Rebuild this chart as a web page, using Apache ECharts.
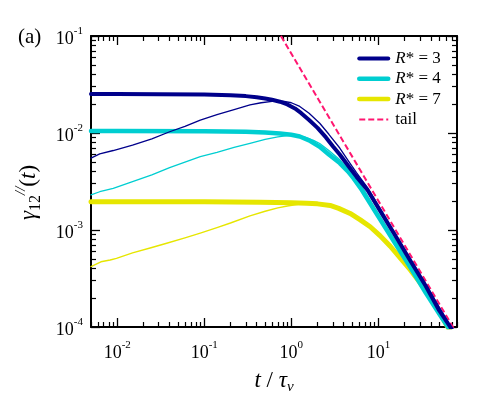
<!DOCTYPE html>
<html>
<head>
<meta charset="utf-8">
<script src="https://cdn.jsdelivr.net/npm/echarts@6/dist/echarts.min.js"></script>
<style>
html,body{margin:0;padding:0;background:#fff;}
#chart{width:491px;height:400px;}
</style>
</head>
<body>
<div id="chart"></div>
<script>
// ---- data: [t / tau_nu, gamma_12(t)] ----
const r3Thick = [[0.005,0.0252],[0.01,0.0252],[0.03,0.0251],[0.1,0.0249],[0.2,0.0245],[0.3,0.0240],[0.4,0.0234],[0.5,0.0227],[0.6,0.0220],[0.74,0.0210],[0.9,0.0197],[1.1,0.0179],[1.3,0.0160],[1.6,0.0136],[2.0,0.0113],[2.5,0.0090],[3.0,0.0073],[3.6,0.0060],[4.5,0.0046],[5.6,0.00355],[7.5,0.00258],[10,0.00169],[15,0.00093],[23,0.00049],[35,0.000265],[50,0.000148],[67,0.000100],[80,0.000077]];
const r3Thin = [[0.005,0.0055],[0.0063,0.0061],[0.009,0.0066],[0.015,0.0075],[0.025,0.0087],[0.04,0.0103],[0.06,0.0117],[0.09,0.0136],[0.14,0.0155],[0.22,0.0174],[0.335,0.0195],[0.45,0.0205],[0.6,0.0212],[0.8,0.0213],[1.0,0.0205],[1.25,0.0188],[1.6,0.0160],[2.12,0.0126],[2.7,0.0097],[3.6,0.0070],[4.5,0.0052],[5.6,0.0039],[7.5,0.00273],[10,0.00177],[15,0.00097],[23,0.00051],[35,0.000275],[67,0.000103],[80,0.000079]];
const r4Thick = [[0.005,0.0105],[0.01,0.0105],[0.1,0.0104],[0.3,0.0103],[0.5,0.0101],[0.74,0.0099],[1.0,0.0096],[1.25,0.0092],[1.6,0.0084],[2.12,0.0072],[2.7,0.0060],[3.6,0.0049],[4.5,0.0040],[5.2,0.0034],[6.46,0.00258],[8,0.0019],[10,0.00138],[15,0.00077],[23,0.00042],[35,0.000225],[50,0.000137],[63,0.000100],[80,0.000071]];
const r4Thin = [[0.005,0.0023],[0.0063,0.00248],[0.009,0.00269],[0.015,0.00315],[0.025,0.0037],[0.04,0.0044],[0.06,0.0050],[0.09,0.0057],[0.14,0.0063],[0.22,0.0071],[0.335,0.0078],[0.5,0.0086],[0.7,0.0091],[0.9,0.0094],[1.1,0.0095],[1.4,0.0091],[1.8,0.0084],[2.12,0.0078],[2.7,0.0066],[3.6,0.0053],[4.5,0.0042],[5.6,0.0033],[7,0.0025],[10,0.00143],[15,0.00080],[23,0.000435],[35,0.000232],[63,0.000102],[80,0.000073]];
const r7Thick = [[0.005,0.00196],[0.01,0.00196],[0.1,0.00195],[0.44,0.00193],[1.0,0.00191],[1.5,0.00189],[2.0,0.00186],[2.79,0.00179],[3.5,0.00167],[4.74,0.00148],[6.2,0.00127],[8.05,0.00108],[10.5,0.00087],[13.7,0.00068],[18,0.00051],[23.2,0.00039],[30,0.000287],[39.5,0.000205],[50,0.000143],[61,0.000104],[80,0.000069]];
const r7Thin = [[0.005,0.00042],[0.0065,0.00047],[0.0083,0.00049],[0.0098,0.00051],[0.015,0.00058],[0.025,0.00066],[0.037,0.00073],[0.06,0.00083],[0.09,0.00093],[0.14,0.00106],[0.2,0.00118],[0.335,0.00140],[0.5,0.00156],[0.7,0.00169],[0.9,0.00177],[1.25,0.00185],[1.8,0.00188],[2.5,0.00184],[3.5,0.00169],[4.74,0.00150],[6.2,0.00128],[8.05,0.00109],[13.7,0.00069],[23.2,0.000395],[39.5,0.000207],[61,0.000105],[80,0.000070]];
const tail = [[0.76,0.1],[80,0.000085]];

// ---- axis ticks / labels ----
const xMajor = [0.01,0.1,1,10];
const xMinor = [0.005,0.006,0.007,0.008,0.009,0.02,0.03,0.04,0.05,0.06,0.07,0.08,0.09,0.2,0.3,0.4,0.5,0.6,0.7,0.8,0.9,2,3,4,5,6,7,8,9,20,30,40,50,60,70,80];
const yMajor = [0.0001,0.001,0.01,0.1];
const yMinor = [0.0002,0.0003,0.0004,0.0005,0.0006,0.0007,0.0008,0.0009,0.002,0.003,0.004,0.005,0.006,0.007,0.008,0.009,0.02,0.03,0.04,0.05,0.06,0.07,0.08,0.09];

const seriesNames = ['R* = 3','R* = 4','R* = 7','tail'];
const colors = {r3:'#00008b', r4:'#00ced1', r7:'#e6e600', tail:'#ff1670'};

const SERIF = '"Liberation Serif","DejaVu Serif",serif';
const X0 = 0.005, X1 = 80, Y0 = 0.0001, Y1 = 0.1;
const G = {left:91, top:36, width:366, height:291};

function powLabel(v){
  const e = Math.round(Math.log10(v));
  return '{b|10}{e|' + e + '}';
}
const labelRich = {
  b:{fontFamily:SERIF, fontSize:18, lineHeight:26, color:'#000'},
  e:{fontFamily:SERIF, fontSize:11, lineHeight:11, verticalAlign:'top', color:'#000'}
};

function axisBase(pos, gridIndex, min, max){
  return {type:'log', logBase:10, gridIndex, position:pos, min, max,
    splitLine:{show:false}, minorTick:{show:false}, minorSplitLine:{show:false}};
}
function majorAxis(pos, min, max, ticks, withLabels, labelExtra){
  const a = axisBase(pos, 0, min, max);
  a.axisLine = {show:true, onZero:false, lineStyle:{color:'#000', width:2}};
  a.axisTick = {show:true, inside:true, length:9, customValues:ticks, lineStyle:{color:'#000', width:1.3}};
  a.axisLabel = withLabels ? Object.assign({show:true, customValues:ticks, formatter:powLabel, rich:labelRich, color:'#000'}, labelExtra) : {show:false};
  return a;
}
function minorAxis(pos, min, max, ticks){
  const a = axisBase(pos, 1, min, max);
  a.axisLine = {show:false, onZero:false};
  a.axisTick = {show:true, inside:true, length:5, customValues:ticks, lineStyle:{color:'#000', width:1.2}};
  a.axisLabel = {show:false};
  return a;
}

const xAxes = [
  majorAxis('bottom', X0, X1, xMajor, true, {margin:13}),
  majorAxis('top', X0, X1, xMajor, false),
  minorAxis('bottom', X0, X1, xMinor),
  minorAxis('top', X0, X1, xMinor)
];
xAxes[0].name = '{i|t} / {i|τ}{s|ν}';
xAxes[0].nameLocation = 'middle';
xAxes[0].nameGap = 33;
xAxes[0].nameTextStyle = {rich:{
  i:{fontFamily:SERIF, fontStyle:'italic', fontSize:23, lineHeight:28, color:'#000'},
  s:{fontFamily:SERIF, fontStyle:'italic', fontSize:15, lineHeight:15, verticalAlign:'bottom', color:'#000'}
}, fontFamily:SERIF, fontSize:23, lineHeight:28, color:'#000'};

const yAxes = [
  majorAxis('left', Y0, Y1, yMajor, true, {margin:8, padding:[6,0,0,0]}),
  majorAxis('right', Y0, Y1, yMajor, false),
  minorAxis('left', Y0, Y1, yMinor),
  minorAxis('right', Y0, Y1, yMinor)
];
yAxes[0].name = '{g|γ}{sb|12}{sp|//}{n|(}{g|t}{n|)}';
yAxes[0].nameLocation = 'middle';
yAxes[0].nameRotate = 90;
yAxes[0].nameGap = 47;
yAxes[0].nameTextStyle = {padding:[0,22,0,0], rich:{
  g:{fontFamily:SERIF, fontStyle:'italic', fontSize:23, lineHeight:30, color:'#000'},
  n:{fontFamily:SERIF, fontSize:23, lineHeight:30, color:'#000'},
  sb:{fontFamily:SERIF, fontSize:16, lineHeight:16, verticalAlign:'bottom', color:'#000'},
  sp:{fontFamily:SERIF, fontStyle:'italic', fontSize:15, lineHeight:15, verticalAlign:'top', color:'#000'}
}, fontFamily:SERIF, fontSize:23, lineHeight:30, color:'#000'};

function lineSeries(name, data, color, width, extra){
  return Object.assign({
    name, type:'line', data, xAxisIndex:0, yAxisIndex:0,
    symbol:'none', smooth:false, clip:true,
    lineStyle:{color, width, join:'round', cap:'round'}, itemStyle:{color},
    emphasis:{disabled:true}, silent:true, animation:false
  }, extra || {});
}

const option = {
  backgroundColor:'#fff',
  animation:false,
  grid:[Object.assign({outerBoundsMode:'none', containLabel:false}, G), Object.assign({outerBoundsMode:'none', containLabel:false}, G)],
  xAxis: xAxes,
  yAxis: yAxes,
  legend:{
    orient:'vertical', left:357, top:50, padding:0,
    itemWidth:29, itemHeight:14, itemGap:3.3,
    itemStyle:{opacity:0},
    selectedMode:false,
    formatter: n => n === 'tail' ? 'tail' : n.replace('R', '{i|R}'),
    textStyle:{fontFamily:SERIF, fontSize:17, lineHeight:14, color:'#000', padding:[0,0,0,2],
      rich:{i:{fontFamily:SERIF, fontStyle:'italic', fontSize:17, lineHeight:14, color:'#000'}}},
    data:[
      {name:seriesNames[0], lineStyle:{width:4, color:colors.r3}},
      {name:seriesNames[1], lineStyle:{width:4.5, color:colors.r4}},
      {name:seriesNames[2], lineStyle:{width:4.5, color:colors.r7}},
      {name:seriesNames[3], lineStyle:{width:2, color:colors.tail, type:[6,3]}}
    ]
  },
  graphic:[{type:'text', left:18, top:27, style:{text:'(a)', font:'21px '+SERIF, fill:'#000'}}],
  series:[
    lineSeries(seriesNames[3], tail, colors.tail, 2, {lineStyle:{color:colors.tail, width:2, type:[6,3]}}),
    lineSeries(seriesNames[2], r7Thick, colors.r7, 5),
    lineSeries('R7 thin', r7Thin, colors.r7, 1.4),
    lineSeries(seriesNames[1], r4Thick, colors.r4, 4.5),
    lineSeries('R4 thin', r4Thin, colors.r4, 1.3),
    lineSeries(seriesNames[0], r3Thick, colors.r3, 4),
    lineSeries('R3 thin', r3Thin, colors.r3, 1.3)
  ]
};

const chart = echarts.init(document.getElementById('chart'), null, {renderer:'canvas'});
chart.setOption(option);
</script>
</body>
</html>
